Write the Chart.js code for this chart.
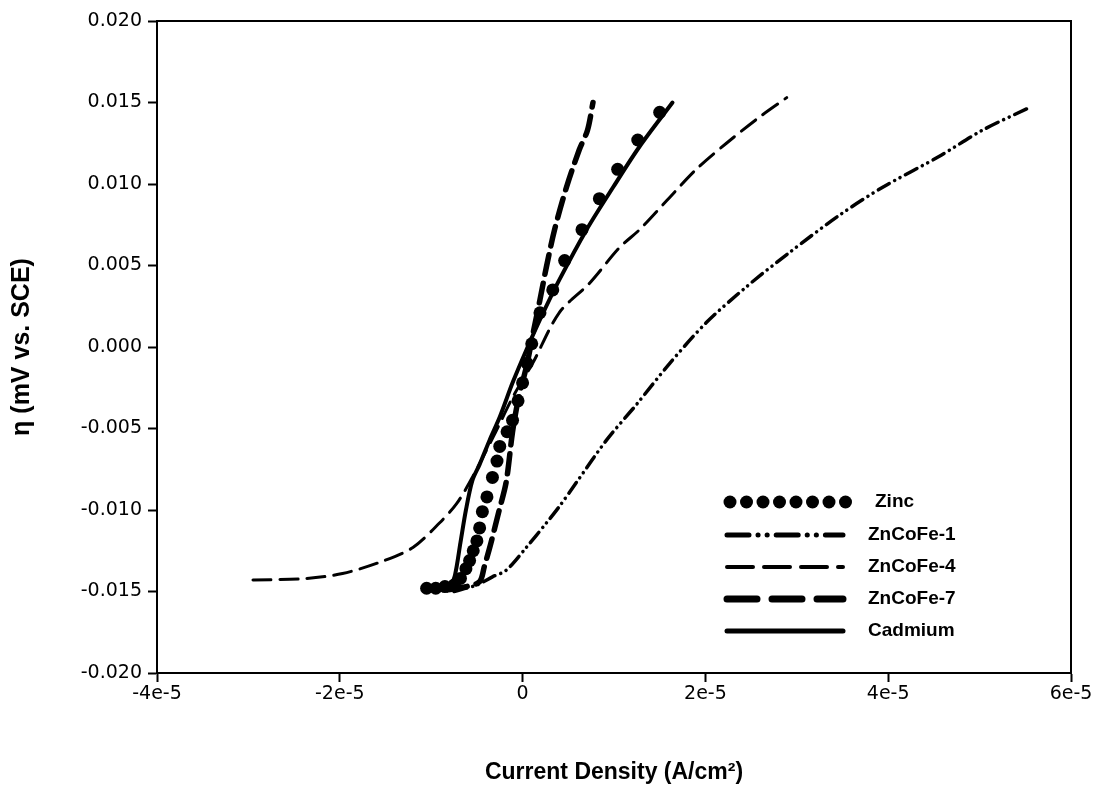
<!DOCTYPE html>
<html lang="en">
<head>
<meta charset="utf-8">
<title>Current Density vs Overpotential</title>
<script src="https://cdn.jsdelivr.net/npm/chart.js@4.4.0/dist/chart.umd.min.js"></script>
<style>
  body { margin: 0; background: #fff; }
</style>
</head>
<body>
<canvas id="myChart" width="1108" height="794"></canvas>

<script>
// values
const seriesNames = ['Zinc', 'ZnCoFe-1', 'ZnCoFe-4', 'ZnCoFe-7', 'Cadmium'];

const zincX = [-1.05e-5, -0.95e-5, -0.85e-5, -0.75e-5, -0.68e-5, -0.62e-5, -0.58e-5, -0.54e-5, -0.5e-5, -0.47e-5,
  -0.44e-5, -0.39e-5, -0.33e-5, -0.28e-5, -0.25e-5, -0.17e-5, -0.11e-5, -0.05e-5, 0, 0.05e-5,
  0.1e-5, 0.19e-5, 0.33e-5, 0.46e-5, 0.65e-5, 0.84e-5, 1.04e-5, 1.26e-5, 1.5e-5];
const zincY = [-0.0148, -0.0148, -0.0147, -0.0146, -0.0142, -0.0136, -0.0131, -0.0125, -0.0119, -0.0111,
  -0.0101, -0.0092, -0.0080, -0.0070, -0.0061, -0.0052, -0.0045, -0.0033, -0.0022, -0.0010,
  0.0002, 0.0021, 0.0035, 0.0053, 0.0072, 0.0091, 0.0109, 0.0127, 0.0144];

const znCoFe1X = [-0.75e-5, -0.5e-5, -0.33e-5, -0.18e-5, 0.04e-5, 0.26e-5, 0.4e-5, 0.59e-5, 0.92e-5, 1.25e-5,
  1.61e-5, 2.01e-5, 2.45e-5, 2.92e-5, 3.47e-5, 3.94e-5, 4.56e-5, 5.03e-5, 5.55e-5];
const znCoFe1Y = [-0.0150, -0.0146, -0.0141, -0.0137, -0.0123, -0.0108, -0.0098, -0.0083, -0.0057, -0.0035,
  -0.0010, 0.0015, 0.0037, 0.0058, 0.0081, 0.0098, 0.0117, 0.0133, 0.0147];

const znCoFe4X = [-2.95e-5, -2.36e-5, -1.97e-5, -1.56e-5, -1.2e-5, -0.91e-5, -0.72e-5, -0.55e-5, -0.32e-5, -0.1e-5,
  0.11e-5, 0.4e-5, 0.73e-5, 1.06e-5, 1.28e-5, 1.58e-5, 1.9e-5, 2.23e-5, 2.59e-5, 2.89e-5];
const znCoFe4Y = [-0.0143, -0.0142, -0.0139, -0.0132, -0.0123, -0.0108, -0.0096, -0.0080, -0.0055, -0.0030,
  -0.0010, 0.0021, 0.0039, 0.0061, 0.0072, 0.0090, 0.0109, 0.0125, 0.0141, 0.0153];

const znCoFe7X = [-0.82e-5, -0.62e-5, -0.47e-5, -0.42e-5, -0.35e-5, -0.26e-5, -0.18e-5, -0.11e-5, -0.05e-5, 0.05e-5,
  0.12e-5, 0.19e-5, 0.26e-5, 0.35e-5, 0.48e-5, 0.62e-5, 0.71e-5, 0.77e-5];
const znCoFe7Y = [-0.0149, -0.0147, -0.0144, -0.0135, -0.0121, -0.0101, -0.0083, -0.0052, -0.0033, -0.0010,
  0.0010, 0.0029, 0.0049, 0.0072, 0.0098, 0.0121, 0.0133, 0.0150];

const cadmiumX = [-0.8e-5, -0.74e-5, -0.68e-5, -0.62e-5, -0.55e-5, -0.47e-5, -0.36e-5, -0.25e-5, -0.11e-5, 0.04e-5,
  0.2e-5, 0.4e-5, 0.7e-5, 0.99e-5, 1.28e-5, 1.64e-5];
const cadmiumY = [-0.0149, -0.0140, -0.0120, -0.0100, -0.0082, -0.0072, -0.0057, -0.0043, -0.0022, -0.0002,
  0.0018, 0.0041, 0.0072, 0.0098, 0.0123, 0.0150];

const xTickValues = [-4e-5, -2e-5, 0, 2e-5, 4e-5, 6e-5];
const xTickLabels = ['-4e-5', '-2e-5', '0', '2e-5', '4e-5', '6e-5'];
const yTickValues = [-0.02, -0.015, -0.01, -0.005, 0, 0.005, 0.01, 0.015, 0.02];
const yTickLabels = ['-0.020', '-0.015', '-0.010', '-0.005', '0.000', '0.005', '0.010', '0.015', '0.020'];

function toPoints(xs, ys) {
  return xs.map((x, i) => ({ x: x, y: ys[i] }));
}

const lineStyles = {
  'ZnCoFe-1': { width: 3.5, dash: [13, 6, 0.1, 6, 0.1, 6] },
  'ZnCoFe-4': { width: 3, dash: [18, 9] },
  'ZnCoFe-7': { width: 5.5, dash: [20, 9] },
  'Cadmium': { width: 4, dash: [] }
};

function lineSet(name, xs, ys) {
  return {
    label: name,
    data: toPoints(xs, ys),
    showLine: true,
    borderColor: '#000',
    backgroundColor: '#000',
    borderWidth: lineStyles[name].width,
    borderDash: lineStyles[name].dash,
    borderCapStyle: 'round',
    tension: 0.3,
    pointRadius: 0
  };
}

// box around the plot + legend in the lower right
const framePlugin = {
  id: 'frame',
  afterDraw(chart) {
    const ctx = chart.ctx;
    const a = chart.chartArea;
    ctx.save();
    ctx.strokeStyle = '#000';
    ctx.lineWidth = 2;
    ctx.strokeRect(a.left, a.top, a.right - a.left, a.bottom - a.top);

    const rows = [502, 535, 567, 599, 631];
    const x0 = 724, x1 = 845;
    ctx.fillStyle = '#000';
    ctx.font = 'bold 19px "Liberation Sans", Arial, sans-serif';
    ctx.textBaseline = 'middle';
    seriesNames.forEach((name, i) => {
      const y = rows[i];
      if (name === 'Zinc') {
        for (let k = 0; k < 8; k++) {
          ctx.beginPath();
          ctx.arc(x0 + 6 + k * 16.5, y, 6.5, 0, Math.PI * 2);
          ctx.fill();
        }
        ctx.fillText(name, 875, y);
        return;
      }
      ctx.beginPath();
      ctx.lineCap = 'round';
      if (name === 'ZnCoFe-1') { ctx.lineWidth = 5; ctx.setLineDash([22, 9, 0.1, 9, 0.1, 9]); }
      if (name === 'ZnCoFe-4') { ctx.lineWidth = 4; ctx.setLineDash([26, 11]); }
      if (name === 'ZnCoFe-7') { ctx.lineWidth = 7; ctx.setLineDash([30, 15]); }
      if (name === 'Cadmium') { ctx.lineWidth = 5; ctx.setLineDash([]); }
      ctx.moveTo(x0 + 3, y);
      ctx.lineTo(x1 - 2, y);
      ctx.stroke();
      ctx.setLineDash([]);
      ctx.fillText(name, 868, y);
    });
    ctx.restore();
  }
};

const tickFont = { family: '"DejaVu Sans", sans-serif', size: 19 };

const config = {
  type: 'scatter',
  data: {
    datasets: [
      {
        label: 'Zinc',
        data: toPoints(zincX, zincY),
        showLine: false,
        pointRadius: 6.5,
        pointStyle: 'circle',
        backgroundColor: '#000',
        borderColor: '#000',
        borderWidth: 0
      },
      lineSet('ZnCoFe-1', znCoFe1X, znCoFe1Y),
      lineSet('ZnCoFe-4', znCoFe4X, znCoFe4Y),
      lineSet('ZnCoFe-7', znCoFe7X, znCoFe7Y),
      lineSet('Cadmium', cadmiumX, cadmiumY)
    ]
  },
  options: {
    responsive: false,
    animation: false,
    layout: { padding: { top: 21, right: 37, left: 0, bottom: 0 } },
    plugins: {
      legend: { display: false },
      tooltip: { enabled: false }
    },
    scales: {
      x: {
        type: 'linear',
        min: -4e-5,
        max: 6e-5,
        afterBuildTicks: s => { s.ticks = xTickValues.map(v => ({ value: v })); },
        afterFit: s => { s.height = 121; },
        ticks: {
          color: '#000',
          font: tickFont,
          padding: 1,
          maxRotation: 0,
          callback: (v, i) => xTickLabels[i]
        },
        grid: { drawOnChartArea: false, tickLength: 9, tickWidth: 2, tickColor: '#000' },
        border: { color: '#000', width: 2 },
        title: {
          display: true,
          text: 'Current Density (A/cm²)',
          color: '#000',
          font: { family: '"Liberation Sans", Arial, sans-serif', size: 23, weight: 'bold' },
          padding: { top: 4, bottom: 8 }
        }
      },
      y: {
        type: 'linear',
        min: -0.02,
        max: 0.02,
        afterBuildTicks: s => { s.ticks = yTickValues.map(v => ({ value: v })); },
        afterFit: s => { s.width = 157; },
        ticks: {
          color: '#000',
          font: tickFont,
          padding: 6,
          callback: (v, i) => yTickLabels[i]
        },
        grid: { drawOnChartArea: false, tickLength: 9, tickWidth: 2, tickColor: '#000' },
        border: { color: '#000', width: 2 },
        title: {
          display: true,
          text: 'η (mV vs. SCE)',
          color: '#000',
          font: { family: '"Liberation Sans", Arial, sans-serif', size: 25, weight: 'bold' },
          padding: { top: 7, bottom: 4 }
        }
      }
    }
  },
  plugins: [framePlugin]
};

var myChart = new Chart(document.getElementById('myChart'), config);
</script>
</body>
</html>
